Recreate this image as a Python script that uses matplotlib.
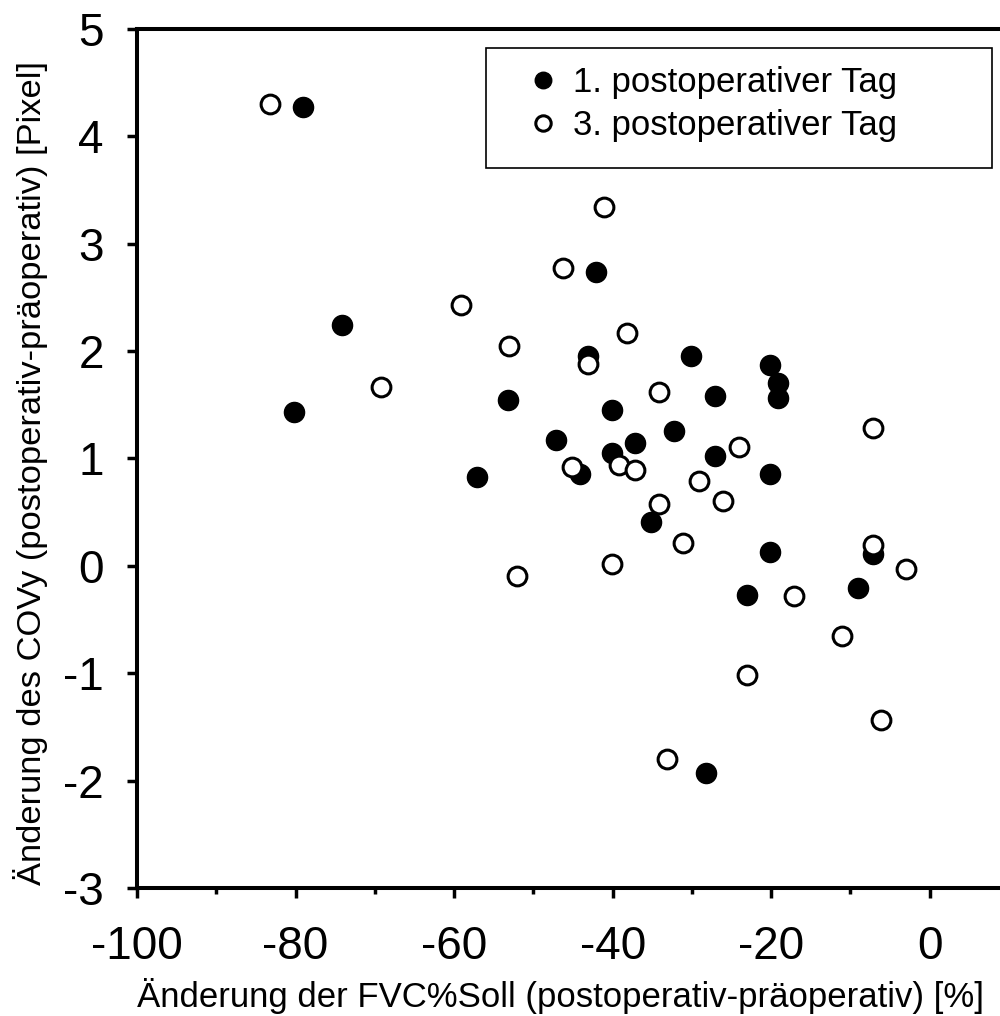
import matplotlib
matplotlib.use("Agg")
import matplotlib.pyplot as plt
from matplotlib.ticker import MultipleLocator
from matplotlib.patches import Rectangle

plt.rcParams['font.family'] = ['Liberation Sans', 'DejaVu Sans']
plt.rcParams['axes.unicode_minus'] = False

# 1. postoperativer Tag (gefuellt)
tag1_x = [-79.1, -74.1, -80.2, -57.1, -53.2, -47.2, -44.1, -43.1, -42.1, -40.1,
          -40.1, -37.2, -35.1, -30.1, -32.2, -27.1, -27.1, -20.1, -19.2, -19.2,
          -20.1, -20.1, -7.2, -23.1, -9.1, -28.2]
tag1_y = [4.27, 2.24, 1.43, 0.83, 1.54, 1.17, 0.86, 1.95, 2.74, 1.45,
          1.05, 1.14, 0.41, 1.95, 1.26, 1.58, 1.02, 1.87, 1.70, 1.56,
          0.86, 0.13, 0.11, -0.27, -0.21, -1.93]

# 3. postoperativer Tag (offen)
tag3_x = [-83.2, -69.2, -59.1, -53.1, -52.1, -46.2, -45.1, -43.1, -41.1, -38.2,
          -39.2, -37.2, -40.1, -34.2, -34.2, -31.1, -29.1, -26.1, -24.1, -7.2,
          -7.2, -3.0, -17.1, -11.1, -23.1, -6.1, -33.2]
tag3_y = [4.30, 1.67, 2.43, 2.05, -0.09, 2.77, 0.92, 1.88, 3.34, 2.17,
          0.94, 0.89, 0.02, 1.62, 0.58, 0.21, 0.79, 0.60, 1.11, 1.28,
          0.19, -0.03, -0.28, -0.65, -1.02, -1.44, -1.80]

fig = plt.figure(figsize=(10, 10.16), dpi=100)
ax = fig.add_axes([0.137, 0.126, 0.872, 0.8455])

ax.plot(tag1_x, tag1_y, 'o', color='black', markersize=14.5, label='1. postoperativer Tag')
ax.plot(tag3_x, tag3_y, 'o', markerfacecolor='white', markeredgecolor='black',
        markeredgewidth=2.2, markersize=13.5, label='3. postoperativer Tag')

ax.set_xlim(-100, 10)
ax.set_ylim(-3, 5)
ax.xaxis.set_major_locator(MultipleLocator(20))
ax.xaxis.set_minor_locator(MultipleLocator(10))
ax.yaxis.set_major_locator(MultipleLocator(1))

for s in ax.spines.values():
    s.set_linewidth(2.9)

ax.tick_params(axis='both', which='major', direction='out', length=7, width=2.5,
               labelsize=33)
ax.tick_params(axis='x', which='minor', direction='out', length=4, width=2.5)
ax.tick_params(axis='x', which='major', pad=20)
ax.tick_params(axis='y', which='major', pad=17)

ax.set_xlabel('Änderung der FVC%Soll (postoperativ-präoperativ) [%]', fontsize=25, labelpad=6)
ax.set_ylabel('Änderung des COVy (postoperativ-präoperativ) [Pixel]', fontsize=24.8, labelpad=11)
ax.xaxis.label.set_x(0.486)
ax.yaxis.label.set_y(0.483)

# legend box (drawn separately, it is wider than the entries)
ax.add_patch(Rectangle((0.486, 0.8346), 0.506, 0.1182, transform=fig.transFigure,
                       facecolor='white', edgecolor='black', linewidth=1.2,
                       clip_on=False, zorder=4))
leg = ax.legend(loc='center left', bbox_to_anchor=(0.526, 0.8977), bbox_transform=fig.transFigure,
                fontsize=25, frameon=False, handletextpad=0.35, borderpad=0,
                labelspacing=0.3, markerscale=0.82, borderaxespad=0, handlelength=1.0)
leg.set_zorder(6)

fig.savefig('out.png', dpi=100)
